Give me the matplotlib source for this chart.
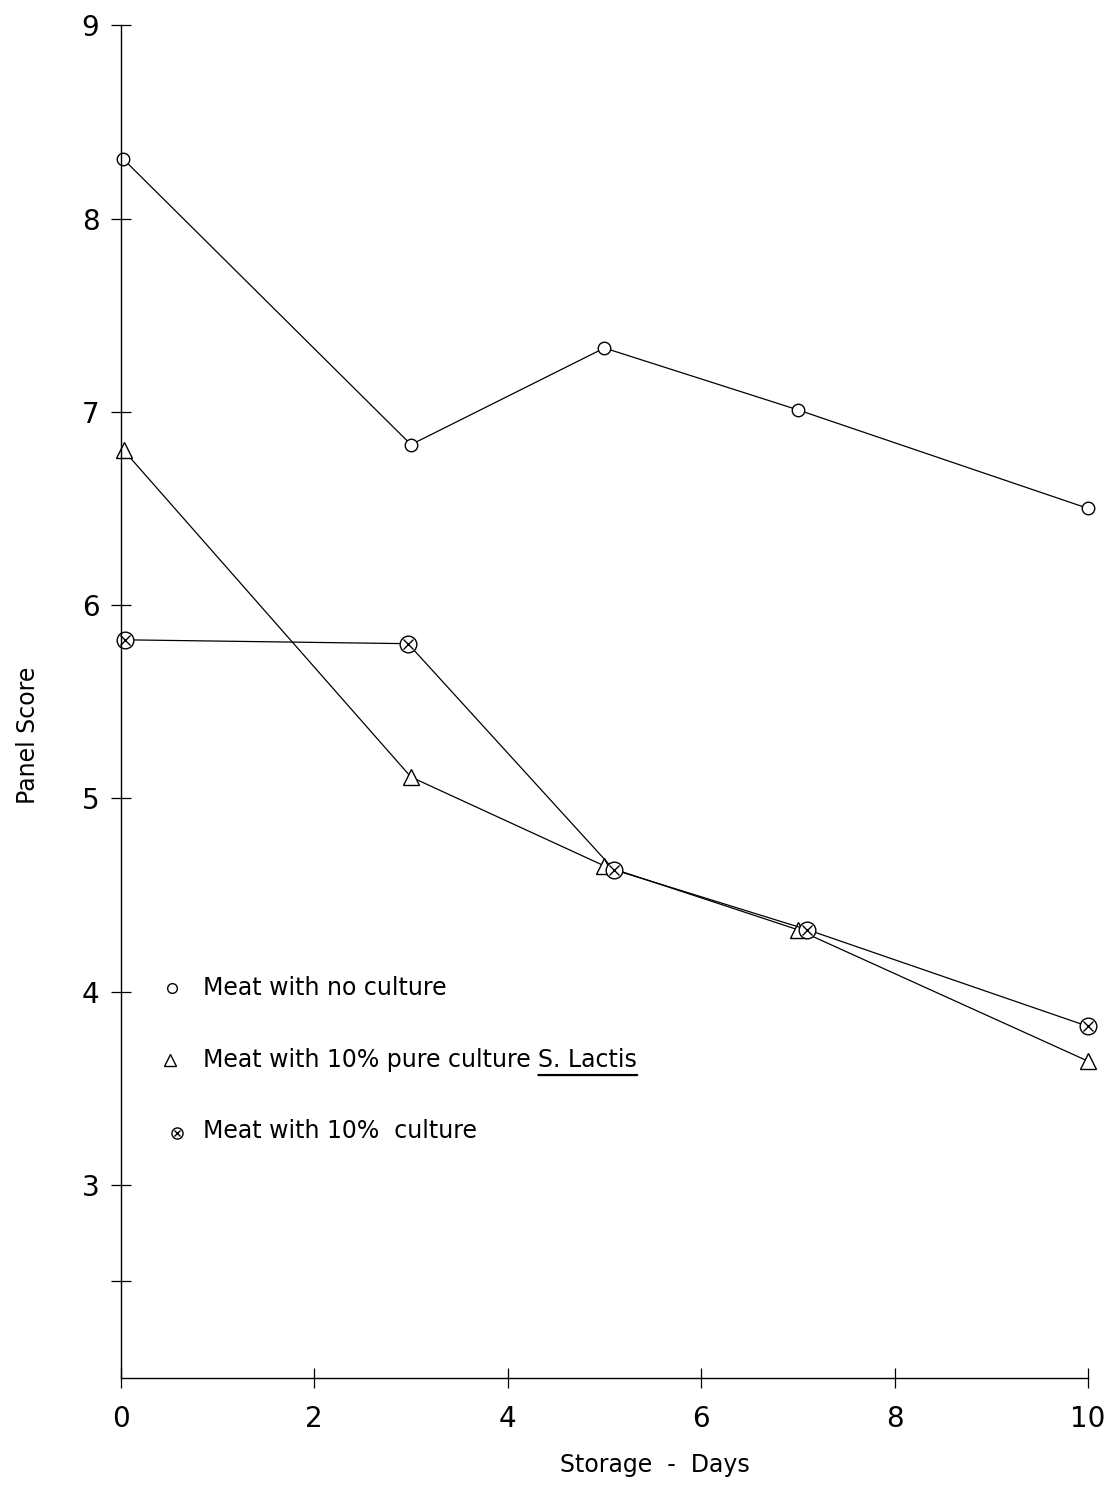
import matplotlib
matplotlib.use('Agg')
import matplotlib.pyplot as plt

# Panel scores over storage time
days_plain = [0.02, 3, 5, 7, 10]
score_plain = [8.31, 6.83, 7.33, 7.01, 6.50]

days_lactis = [0.03, 3, 5, 7, 10]
score_lactis = [6.80, 5.11, 4.65, 4.32, 3.64]

days_culture = [0.04, 2.97, 5.1, 7.1, 10]
score_culture = [5.82, 5.80, 4.63, 4.32, 3.82]

x_ticks = [0, 2, 4, 6, 8, 10]
y_ticks = [2.5, 3, 4, 5, 6, 7, 8, 9]
y_tick_labels = ['', '3', '4', '5', '6', '7', '8', '9']

plt.rcParams['font.family'] = ['DejaVu Sans']

fig = plt.figure(figsize=(11.09, 14.85), dpi=100)
ax = fig.add_axes([0.109, 0.072, 0.872, 0.911])

ax.plot(days_plain, score_plain, color='black', lw=0.9, marker='o',
        markersize=9, markerfacecolor='white', markeredgewidth=1.0, clip_on=False)
ax.plot(days_lactis, score_lactis, color='black', lw=0.9, marker='^',
        markersize=11, markerfacecolor='white', markeredgewidth=1.0, clip_on=False)
ax.plot(days_culture, score_culture, color='black', lw=0.9, marker='o',
        markersize=12, markerfacecolor='white', markeredgewidth=1.0, clip_on=False)
ax.plot(days_culture, score_culture, linestyle='none', marker='x',
        color='black', markersize=7, markeredgewidth=1.0, clip_on=False)

ax.set_xlim(0, 10)
ax.set_ylim(2, 9)
ax.set_xticks(x_ticks)
ax.set_yticks(y_ticks)
ax.set_yticklabels(y_tick_labels)

for side in ['top', 'right']:
    ax.spines[side].set_visible(False)
for side in ['left', 'bottom']:
    ax.spines[side].set_linewidth(1.0)

ax.tick_params(axis='both', direction='inout', length=15, width=0.9,
               labelsize=20)
ax.tick_params(axis='y', pad=8)
ax.tick_params(axis='x', pad=12)

ax.set_xlabel('Storage  -  Days', fontsize=17, va='center')
ax.set_ylabel('Panel Score', fontsize=17, va='center')
ax.xaxis.set_label_coords(0.552, -0.064)
ax.yaxis.set_label_coords(-0.096, 0.475)

# Hand-drawn key inside the plot
key_rows = [0.288, 0.235, 0.183]
ax.plot([0.053], [key_rows[0]], transform=ax.transAxes, marker='o',
        markersize=7, markerfacecolor='white', color='black', clip_on=False)
ax.plot([0.051], [key_rows[1]], transform=ax.transAxes, marker='^',
        markersize=8, markerfacecolor='white', color='black', clip_on=False)
ax.plot([0.058], [key_rows[2] - 0.002], transform=ax.transAxes, marker='o',
        markersize=8, markerfacecolor='white', color='black', clip_on=False)
ax.plot([0.058], [key_rows[2] - 0.002], transform=ax.transAxes, marker='x',
        markersize=5, color='black', clip_on=False)

kw = dict(transform=ax.transAxes, fontsize=17, va='center', ha='left')
ax.text(0.085, key_rows[0], 'Meat with no culture', **kw)
t1 = ax.text(0.085, key_rows[1], 'Meat with 10% pure culture ', **kw)
t2 = ax.annotate('S. Lactis', xy=(1, 0.5), xycoords=t1, va='center',
                 ha='left', fontsize=17)
ax.annotate('', xy=(0, -0.12), xycoords=t2, xytext=(1, -0.12), textcoords=t2,
            arrowprops=dict(arrowstyle='-', color='black', lw=1.6,
                            shrinkA=0, shrinkB=0))
ax.text(0.085, key_rows[2], 'Meat with 10%  culture', **kw)

fig.savefig('out.png', dpi=100, facecolor='white')
